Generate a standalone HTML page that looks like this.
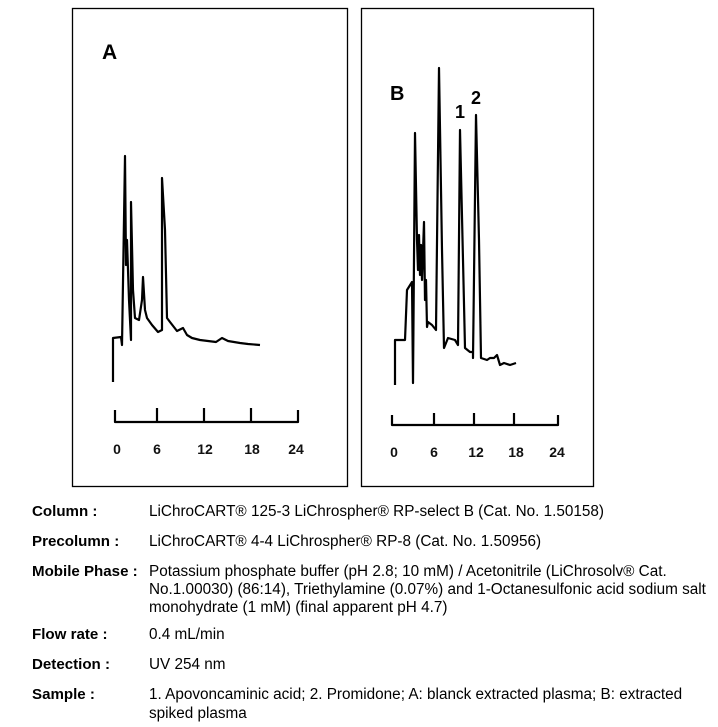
<!DOCTYPE html>
<html><head><meta charset="utf-8"><style>
html,body{margin:0;padding:0;background:#fff;width:718px;height:727px;overflow:hidden}
svg{display:block}
text{font-family:"Liberation Sans",Arial,sans-serif}
.l{font-weight:bold;font-size:15.1px;fill:#000}
.v{font-size:15.3px;fill:#000}
.t{font-weight:bold;font-size:14px;fill:#111}
</style></head><body>
<svg width="718" height="727" viewBox="0 0 718 727" xmlns="http://www.w3.org/2000/svg">
<rect x="72.5" y="8.5" width="275" height="478" fill="none" stroke="#000" stroke-width="1.3"/>
<rect x="361.5" y="8.5" width="232" height="478" fill="none" stroke="#000" stroke-width="1.3"/>
<g fill="none" stroke="#000" stroke-width="2.2" stroke-linejoin="round">
<polyline points="113,382 113,338 121,337 122,345 125,156 126,265 127,240 129,300 131,340 131,202 133,290 135,318 139,320 142,300 143,277 145,310 147,318 152,325 158,332 162,330 162,178 165,230 167,318 170,322 177,331 183,328 187,335 192,338 200,340 216,342 222,338 228,341 240,343 248,344 260,345"/>
<polyline points="115,410 115,422 298,422 298,410"/>
<line x1="157" y1="408" x2="157" y2="422"/><line x1="204" y1="408" x2="204" y2="422"/><line x1="251" y1="408" x2="251" y2="422"/>
<polyline points="395,385 395,340 405,340 407,290 412,282 413,383 415,133 417,240 418,270 419,235 420,275 421,245 422,280 424,222 425,300 426,280 427,327 428,322 432,325 436,330 439,68 442,250 444,348 448,338 455,340 458,345 460,130 463,260 465,348 470,352 473,352 473,358 476,115 479,240 481,358 487,360 490,358 494,358 497,355 500,365 504,363 510,365 516,363"/>
<polyline points="392,415 392,425 558,425 558,415"/>
<line x1="434" y1="413" x2="434" y2="425"/><line x1="474" y1="413" x2="474" y2="425"/><line x1="514" y1="413" x2="514" y2="425"/>
</g>
<text x="102" y="59" style="font-weight:bold;font-size:21px">A</text>
<text x="390" y="100" style="font-weight:bold;font-size:20px">B</text>
<text x="455" y="118" style="font-weight:bold;font-size:18px">1</text>
<text x="471" y="104" style="font-weight:bold;font-size:18px">2</text>
<g class="t" text-anchor="middle">
<text x="117" y="454">0</text><text x="157" y="454">6</text><text x="205" y="454">12</text><text x="252" y="454">18</text><text x="296" y="454">24</text>
<text x="394" y="457">0</text><text x="434" y="457">6</text><text x="476" y="457">12</text><text x="516" y="457">18</text><text x="557" y="457">24</text>
</g>
<text class="l" x="32" y="516">Column :</text>
<text class="v" x="149" y="516">LiChroCART® 125-3 LiChrospher® RP-select B  (Cat. No. 1.50158)</text>
<text class="l" x="32" y="546">Precolumn :</text>
<text class="v" x="149" y="546">LiChroCART® 4-4 LiChrospher® RP-8  (Cat. No. 1.50956)</text>
<text class="l" x="32" y="576">Mobile Phase :</text>
<text class="v" x="149" y="576">Potassium phosphate buffer (pH 2.8; 10 mM) / Acetonitrile (LiChrosolv® Cat.</text>
<text class="v" x="149" y="594">No.1.00030) (86:14), Triethylamine (0.07%) and 1-Octanesulfonic acid sodium salt</text>
<text class="v" x="149" y="612">monohydrate (1 mM) (final apparent pH 4.7)</text>
<text class="l" x="32" y="639">Flow rate :</text>
<text class="v" x="149" y="639">0.4 mL/min</text>
<text class="l" x="32" y="669">Detection :</text>
<text class="v" x="149" y="669">UV 254 nm</text>
<text class="l" x="32" y="699">Sample :</text>
<text class="v" x="149" y="699">1. Apovoncaminic acid; 2. Promidone; A: blanck extracted plasma; B: extracted</text>
<text class="v" x="149" y="718">spiked plasma</text>
</svg>
</body></html>
